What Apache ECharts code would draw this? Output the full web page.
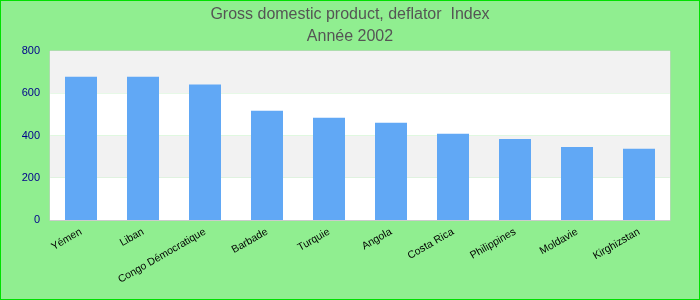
<!DOCTYPE html>
<html><head><meta charset="utf-8">
<script src="https://cdn.jsdelivr.net/npm/echarts@6/dist/echarts.min.js"></script>
<style>html,body{margin:0;padding:0;}#c{width:700px;height:300px;box-sizing:border-box;border:1px solid #00e000;}</style>
</head><body><div id="c"></div>
<script>
const categories = ["Yémen","Liban","Congo Démocratique","Barbade","Turquie","Angola","Costa Rica","Philippines","Moldavie","Kirghizstan"];
const values = [678, 678, 641, 517, 484, 460, 408, 384, 346, 337];
const titleLines = ["Gross domestic product, deflator  Index", "Année 2002"];

const chart = echarts.init(document.getElementById('c'));
chart.setOption({
  backgroundColor: '#90EE90',
  animation: false,
  title: {
    text: titleLines.join('\n'),
    left: 'center', top: -2,
    textStyle: {fontFamily: 'Liberation Sans, Arial', fontSize: 16, fontWeight: 'normal', color: '#555555', lineHeight: 22}
  },
  grid: {left: 49, right: 29, top: 50, bottom: 79, show: true, borderColor: '#cccccc', borderWidth: 1, containLabel: false},
  xAxis: {
    type: 'category', data: categories,
    axisTick: {show: false},
    axisLine: {show: true, lineStyle: {color: '#cccccc'}},
    axisLabel: {rotate: 30, interval: 0, fontFamily: 'Liberation Sans, Arial', fontSize: 10.5, color: '#000', margin: 11}
  },
  yAxis: {
    type: 'value', min: 0, max: 800, interval: 200,
    axisLine: {show: false}, axisTick: {show: false},
    splitLine: {show: false},
    splitArea: {show: true, areaStyle: {color: ['#ffffff', '#f2f2f2']}},
    axisLabel: {fontFamily: 'Liberation Sans, Arial', fontSize: 11, color: '#00008b', margin: 10}
  },
  series: [{type: 'bar', data: values, barWidth: 32, itemStyle: {color: '#61a8f5'}}]
});
</script>
</body></html>
